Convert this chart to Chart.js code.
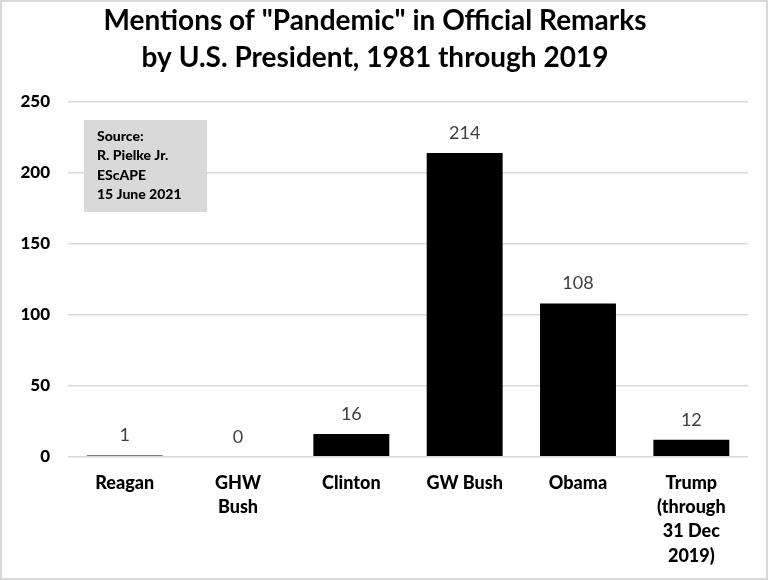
<!DOCTYPE html>
<html>
<head>
<meta charset="utf-8">
<script src="https://cdn.jsdelivr.net/npm/chart.js@4"></script>
<style>
  html, body { margin: 0; padding: 0; background: #fff; }
  #wrap { position: relative; width: 768px; height: 580px; box-sizing: border-box; border: 2px solid #d9d9d9; }
  canvas { display: block; }
</style>
</head>
<body>
<div id="wrap"><canvas id="c" width="764" height="576"></canvas></div>
<script>
const categories = ["Reagan", ["GHW", "Bush"], "Clinton", "GW Bush", "Obama", ["Trump", "(through", "31 Dec", "2019)"]];
const mentions = [1, 0, 16, 214, 108, 12];
const yTicks = [0, 50, 100, 150, 200, 250];
const titleLines = ['Mentions of "Pandemic" in Official Remarks', 'by U.S. President, 1981 through 2019'];
const sourceLines = ["Source:", "R. Pielke Jr.", "EScAPE", "15 June 2021"];

const labelPlugin = {
  id: 'valueLabels',
  afterDatasetsDraw(chart) {
    const ctx = chart.ctx;
    const meta = chart.getDatasetMeta(0);
    ctx.save();
    ctx.font = '18px "Lato", sans-serif';
    ctx.fillStyle = '#404040';
    ctx.textAlign = 'center';
    ctx.textBaseline = 'alphabetic';
    meta.data.forEach((bar, i) => {
      ctx.fillText(String(mentions[i]), bar.x, bar.y - 14);
    });
    ctx.restore();
  }
};

const sourcePlugin = {
  id: 'sourceBox',
  afterDraw(chart) {
    const ctx = chart.ctx;
    ctx.save();
    ctx.fillStyle = '#d9d9d9';
    ctx.fillRect(82, 118, 123, 92);
    ctx.fillStyle = '#000';
    ctx.font = '900 14px "Lato", sans-serif';
    ctx.textAlign = 'left';
    ctx.textBaseline = 'middle';
    sourceLines.forEach((t, i) => ctx.fillText(t, 95, 134 + i * 19.5));
    ctx.restore();
  }
};

new Chart(document.getElementById('c'), {
  type: 'bar',
  data: {
    labels: categories,
    datasets: [{
      data: mentions,
      backgroundColor: '#000',
      borderWidth: 0,
      categoryPercentage: 0.67,
      barPercentage: 1.0
    }]
  },
  options: {
    responsive: false,
    animation: false,
    layout: { padding: { left: 0, right: 18, top: 0, bottom: 4 } },
    plugins: {
      legend: { display: false },
      tooltip: { enabled: false },
      title: {
        display: true,
        text: titleLines,
        color: '#000',
        font: { family: 'Lato', size: 28, weight: 'bold', lineHeight: 1.3 },
        padding: { top: 1, bottom: 26 }
      }
    },
    scales: {
      x: {
        grid: { display: false },
        border: { display: false },
        ticks: {
          color: '#000',
          font: { family: 'Lato', size: 18, weight: '900', lineHeight: 1.35 },
          padding: 6,
          maxRotation: 0,
          autoSkip: false
        }
      },
      y: {
        min: 0,
        max: 250,
        afterBuildTicks(scale) { scale.ticks = yTicks.map(v => ({ value: v })); },
        afterFit(scale) { scale.width = 66; },
        grid: { color: '#d9d9d9', lineWidth: 1.5, drawTicks: false },
        border: { display: false },
        ticks: {
          color: '#000',
          font: { family: 'Lato', size: 17, weight: '900' },
          padding: 18
        }
      }
    }
  },
  plugins: [labelPlugin, sourcePlugin]
});
</script>
</body>
</html>
